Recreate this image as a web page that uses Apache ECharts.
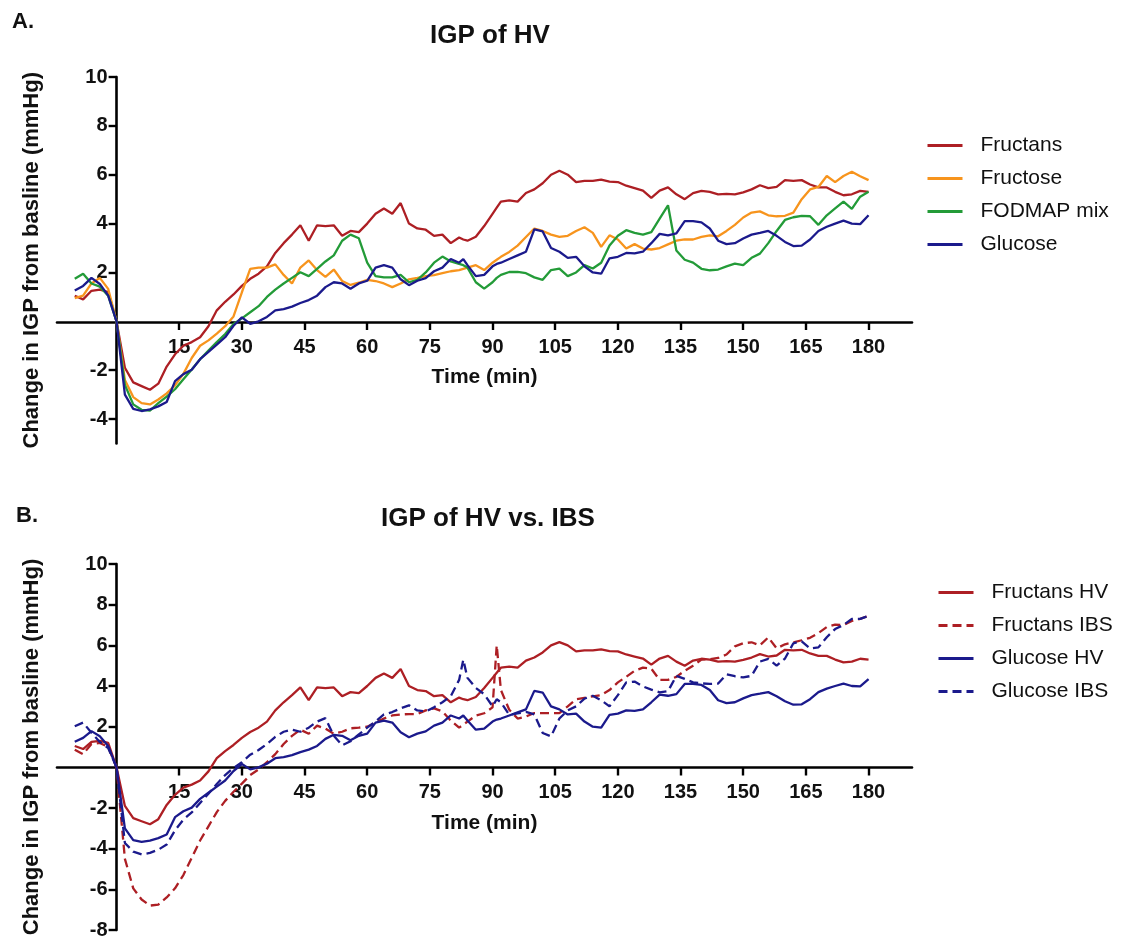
<!DOCTYPE html>
<html>
<head>
<meta charset="utf-8">
<script src="https://cdn.jsdelivr.net/npm/echarts@6/dist/echarts.min.js"></script>
<style>
html,body{margin:0;padding:0;background:#fff;}
#chart{width:1122px;height:937px;}
</style>
</head>
<body>
<div id="chart"></div>
<script>
// Time points (min)
const time = [-10,-8,-6,-4,-2,0,2,4,6,8,10,12,14,16,18,20,22,24,26,28,30,32,34,36,38,40,42,44,46,48,50,52,54,56,58,60,62,64,66,68,70,72,74,76,78,80,82,83,84,86,88,90,91,92,94,96,98,100,102,104,106,108,110,112,114,116,118,120,122,124,126,128,130,132,134,136,138,140,142,144,146,148,150,152,154,156,158,160,162,164,166,168,170,172,174,176,178,180];

// Panel A (HV)
const fructans = [1.05,0.9,1.25,1.3,1.2,0,
 -1.9,-2.5,-2.65,-2.8,-2.55,-1.85,-1.35,-1.0,-0.85,-0.65,
 -0.2,0.45,0.8,1.1,1.45,1.74,1.95,2.25,2.8,3.2,
 3.55,3.93,3.3,3.93,3.9,3.93,3.5,3.7,3.65,4.0,
 4.4,4.62,4.4,4.84,4.0,3.8,3.75,3.5,3.55,3.2,
 3.43,3.35,3.3,3.46,3.9,4.4,4.65,4.9,4.95,4.9,5.25,5.4,
 5.65,6.0,6.16,6.0,5.7,5.75,5.75,5.8,5.72,5.7,
 5.55,5.45,5.35,5.05,5.35,5.48,5.2,5.0,5.25,5.34,
 5.3,5.2,5.22,5.2,5.28,5.4,5.57,5.45,5.5,5.78,
 5.75,5.78,5.6,5.48,5.48,5.3,5.16,5.2,5.34,5.3];

const fructose = [0.95,1.05,1.55,1.78,1.33,0,
 -2.4,-3.1,-3.35,-3.4,-3.2,-2.95,-2.62,-2.15,-1.5,-1.0,
 -0.78,-0.5,-0.2,0.2,1.19,2.15,2.2,2.2,2.33,1.9,
 1.55,2.2,2.49,2.1,1.82,2.12,1.65,1.49,1.58,1.7,
 1.65,1.55,1.4,1.55,1.72,1.78,1.85,1.89,1.97,2.05,
 2.1,2.15,2.2,2.3,2.1,2.4,2.52,2.64,2.84,3.1,3.45,3.8,
 3.7,3.55,3.46,3.5,3.7,3.85,3.62,3.05,3.52,3.35,
 2.98,3.16,2.98,2.94,3.0,3.15,3.3,3.35,3.35,3.46,
 3.52,3.48,3.7,3.95,4.25,4.45,4.5,4.34,4.3,4.32,
 4.45,5.0,5.4,5.5,5.95,5.7,5.95,6.12,5.94,5.78];

const fodmapMix = [1.74,1.95,1.55,1.42,1.05,0,
 -2.6,-3.4,-3.62,-3.65,-3.35,-3.08,-2.78,-2.37,-1.97,-1.55,
 -1.2,-0.85,-0.52,-0.11,0.12,0.37,0.62,1.0,1.3,1.55,
 1.78,2.01,1.85,2.15,2.45,2.7,3.3,3.55,3.4,2.4,
 1.85,1.8,1.8,1.9,1.6,1.7,2.0,2.4,2.65,2.45,
 2.35,2.3,2.2,1.6,1.34,1.6,1.78,1.9,2.02,2.02,1.97,1.8,
 1.7,2.1,2.16,1.85,2.0,2.3,2.16,2.4,3.1,3.5,
 3.73,3.62,3.55,3.65,4.2,4.75,2.9,2.52,2.4,2.15,
 2.09,2.12,2.25,2.36,2.3,2.6,2.77,3.2,3.7,4.15,
 4.26,4.32,4.3,3.95,4.34,4.62,4.9,4.6,5.1,5.3];

const glucose = [1.26,1.45,1.78,1.53,1.05,0,
 -3.0,-3.58,-3.67,-3.6,-3.48,-3.3,-2.45,-2.16,-1.98,-1.55,
 -1.25,-0.95,-0.65,-0.18,0.16,-0.1,0.0,0.18,0.45,0.5,
 0.6,0.75,0.87,1.05,1.4,1.6,1.55,1.33,1.55,1.66,
 2.2,2.3,2.2,1.72,1.48,1.66,1.77,2.05,2.2,2.55,
 2.4,2.55,2.3,1.85,1.9,2.25,2.35,2.4,2.55,2.7,2.85,3.76,
 3.68,3.0,2.85,2.6,2.64,2.25,2.0,1.95,2.58,2.64,
 2.8,2.78,2.85,3.2,3.58,3.52,3.6,4.1,4.1,4.05,
 3.8,3.3,3.16,3.2,3.39,3.55,3.62,3.7,3.5,3.25,
 3.08,3.1,3.35,3.7,3.87,4.0,4.12,4.0,3.98,4.34];

// Panel B (IBS); HV curves are the same as panel A
const fructansIBS = [0.87,0.65,1.15,1.2,1.0,0,
 -4.5,-5.95,-6.5,-6.8,-6.75,-6.4,-5.95,-5.3,-4.45,-3.6,
 -2.9,-2.2,-1.65,-1.2,-0.8,-0.38,-0.1,0.25,0.65,1.15,
 1.55,1.85,1.65,2.05,1.9,1.65,1.75,1.92,1.95,2.0,
 2.2,2.4,2.55,2.6,2.62,2.62,2.8,2.9,2.75,2.3,
 1.95,2.1,2.25,2.55,2.66,2.95,6.0,3.8,2.83,2.4,2.5,2.67,
 2.67,2.67,2.67,3.0,3.35,3.42,3.49,3.55,3.8,4.18,
 4.45,4.75,4.9,4.85,4.3,4.3,4.45,4.75,5.0,5.3,
 5.32,5.38,5.55,5.95,6.1,6.15,6.0,6.39,5.85,6.05,
 6.15,6.25,6.37,6.6,6.9,7.02,7.0,7.2,7.3,7.45];

const glucoseIBS = [2.02,2.2,1.7,1.25,0.95,0,
 -3.72,-4.15,-4.28,-4.21,-4.05,-3.8,-3.1,-2.57,-2.22,-1.75,
 -1.3,-0.82,-0.38,-0.03,0.25,0.62,0.85,1.15,1.5,1.75,
 1.85,1.75,1.95,2.25,2.42,1.55,1.08,1.28,1.62,1.95,
 2.25,2.6,2.72,2.9,3.05,2.8,2.75,2.95,3.2,3.5,
 4.3,5.29,4.4,3.9,3.6,3.0,3.35,3.2,2.59,2.65,2.73,2.6,
 1.69,1.52,2.4,2.8,3.0,3.38,3.52,3.3,3.0,3.55,
 4.18,4.22,3.98,3.82,3.69,3.75,4.5,4.35,4.18,4.13,
 4.1,4.12,4.58,4.48,4.42,4.5,5.2,5.33,5.0,5.35,
 6.1,6.2,5.85,5.9,6.4,6.8,7.0,7.3,7.3,7.45];

const xTicks = [15,30,45,60,75,90,105,120,135,150,165,180];
const yTicksA = [-4,-2,2,4,6,8,10];
const yTicksB = [-8,-6,-4,-2,2,4,6,8,10];

const seriesA = [
  {name:'Fructans', vals:fructans, color:'#ad1f24', dash:'solid'},
  {name:'Fructose', vals:fructose, color:'#f7941d', dash:'solid'},
  {name:'FODMAP mix', vals:fodmapMix, color:'#239b38', dash:'solid'},
  {name:'Glucose', vals:glucose, color:'#1b1a8c', dash:'solid'}
];
const seriesB = [
  {name:'Fructans HV', vals:fructans, color:'#ad1f24', dash:'solid'},
  {name:'Fructans IBS', vals:fructansIBS, color:'#ad1f24', dash:[9,5]},
  {name:'Glucose HV', vals:glucose, color:'#1b1a8c', dash:'solid'},
  {name:'Glucose IBS', vals:glucoseIBS, color:'#1b1a8c', dash:[9,5]}
];

const FONT = '"Liberation Sans", Arial, sans-serif';
const chart = echarts.init(document.getElementById('chart'), null, {renderer:'canvas'});

// x-axis drawn at y=0: offset from grid bottom; y-axis at x=0: offset from grid left
function xAx(gi, off){
  return {
    type:'value', gridIndex:gi, min:-14.25, max:190.4, position:'bottom', offset:off,
    name:'Time (min)', nameLocation:'middle', nameGap:45,
    nameTextStyle:{fontFamily:FONT, fontWeight:'bold', fontSize:21, color:'#111'},
    axisLine:{onZero:false, lineStyle:{color:'#000', width:2.6}},
    axisTick:{show:true, length:8, customValues:xTicks, lineStyle:{color:'#000', width:2.4}},
    axisLabel:{customValues:xTicks, margin:15, fontFamily:FONT, fontWeight:'bold', fontSize:20, color:'#111'},
    splitLine:{show:false}
  };
}
function yAx(gi, mn, mx, ticks, off){
  return {
    type:'value', gridIndex:gi, min:mn, max:mx, position:'left', offset:off,
    name:'Change in IGP from basline (mmHg)', nameLocation:'middle', nameGap:74, nameRotate:90,
    nameTextStyle:{fontFamily:FONT, fontWeight:'bold', fontSize:22, color:'#111'},
    axisLine:{onZero:false, lineStyle:{color:'#000', width:2.6}},
    axisTick:{show:true, length:8, customValues:ticks, lineStyle:{color:'#000', width:2.4}},
    axisLabel:{customValues:ticks, margin:9, fontFamily:FONT, fontWeight:'bold', fontSize:20, color:'#111'},
    splitLine:{show:false}
  };
}
function mk(s, gi){
  return {
    type:'line', name:s.name, xAxisIndex:gi, yAxisIndex:gi,
    data: time.map((t,i)=>[t, s.vals[i]]),
    symbol:'none', showSymbol:false, silent:true, animation:false,
    itemStyle:{color:s.color},
    lineStyle:{color:s.color, width:2.3, type:s.dash}
  };
}
function legend(names, left, top){
  return {
    orient:'vertical', left:left, top:top, data:names,
    itemWidth:35, itemHeight:14, itemGap:12,
    itemStyle:{opacity:0},
    lineStyle:{width:3},
    textStyle:{fontFamily:FONT, fontSize:21, color:'#111', lineHeight:21, padding:[0,0,0,13]},
    selectedMode:false
  };
}

chart.setOption({
  animation:false,
  backgroundColor:'#fff',
  grid:[
    {left:57, top:77, width:855, height:366.5, containLabel:false, outerBoundsMode:'none'},
    {left:57, top:564, width:855, height:366, containLabel:false, outerBoundsMode:'none'}
  ],
  xAxis:[xAx(0, -121.5), xAx(1, -162.5)],
  yAxis:[yAx(0,-5,10,yTicksA, -59.6), yAx(1,-8,10,yTicksB, -59.6)],
  legend:[
    legend(seriesA.map(s=>s.name), 921, 130),
    legend(seriesB.map(s=>s.name), 932, 577)
  ],
  graphic:[
    {type:'text', x:12, y:22, style:{text:'A.', font:'bold 22px '+FONT, fill:'#111', verticalAlign:'middle'}},
    {type:'text', x:16, y:516, style:{text:'B.', font:'bold 22px '+FONT, fill:'#111', verticalAlign:'middle'}},
    {type:'text', x:490, y:36, style:{text:'IGP of HV', font:'bold 26px '+FONT, fill:'#111', align:'center', verticalAlign:'middle'}},
    {type:'text', x:488, y:519, style:{text:'IGP of HV vs. IBS', font:'bold 26px '+FONT, fill:'#111', align:'center', verticalAlign:'middle'}}
  ],
  series:[...seriesA.map(s=>mk(s,0)), ...seriesB.map(s=>mk(s,1))]
});
</script>
</body>
</html>
